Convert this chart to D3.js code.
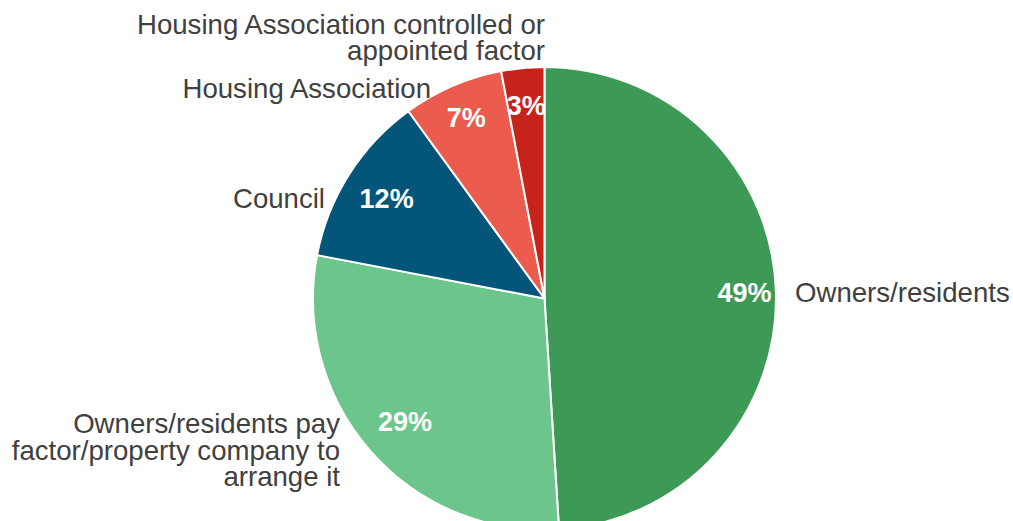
<!DOCTYPE html>
<html>
<head>
<meta charset="utf-8">
<script src="https://cdn.jsdelivr.net/npm/d3@7"></script>
<style>
  html, body { margin: 0; padding: 0; background: #fff; }
  svg { display: block; }
</style>
</head>
<body>
<svg id="chart" width="1013" height="521"></svg>
<script>
// Who arranges it: share of responses
const categories = [
  "Owners/residents",
  "Owners/residents pay factor/property company to arrange it",
  "Council",
  "Housing Association",
  "Housing Association controlled or appointed factor"
];
const values = [49, 29, 12, 7, 3];
const colors = ["#3d9956", "#6cc58a", "#03567a", "#eb5b4e", "#c8231a"];
// Category labels broken into lines as drawn
const labelLines = [
  ["Owners/residents"],
  ["Owners/residents pay", "factor/property company to", "arrange it"],
  ["Council"],
  ["Housing Association"],
  ["Housing Association controlled or", "appointed factor"]
];

const width = 1013, height = 521;
const cx = 544.5, cy = 298.5, R = 231.5;
const fontFamily = "'Liberation Sans', Arial, Helvetica, sans-serif";
const labelSize = 27.6;
const pctSize = 27;
const lineH = 26.5;

const svg = d3.select("#chart");
const g = svg.append("g").attr("transform", `translate(${cx},${cy})`);

const data = categories.map((c, i) => ({ name: c, value: values[i], color: colors[i], lines: labelLines[i] }));

const pie = d3.pie().value(d => d.value).sort(null);
const arcs = pie(data);
const arc = d3.arc().innerRadius(0).outerRadius(R);

g.selectAll("path.slice")
  .data(arcs)
  .join("path")
  .attr("class", "slice")
  .attr("d", arc)
  .attr("fill", d => d.data.color)
  .attr("stroke", "#fff")
  .attr("stroke-width", 2)
  .attr("stroke-linejoin", "round");

// Percentage labels inside each slice
const pctRadius = [200, 186, 187, 197, 194];
g.selectAll("text.pct")
  .data(arcs)
  .join("text")
  .attr("class", "pct")
  .attr("transform", (d, i) => {
    const a = (d.startAngle + d.endAngle) / 2;
    const r = pctRadius[i];
    return `translate(${r * Math.sin(a)},${-r * Math.cos(a)})`;
  })
  .attr("text-anchor", "middle")
  .attr("dy", "0.36em")
  .attr("fill", "#fff")
  .attr("font-family", fontFamily)
  .attr("font-weight", "bold")
  .attr("font-size", pctSize)
  .text(d => d3.format(".0f")(d.value) + "%");

// Category labels outside the pie
const labelPos = [
  { x: 795, y: 292, anchor: "start" },
  { x: 340, y: 450, anchor: "end" },
  { x: 325, y: 198, anchor: "end" },
  { x: 431, y: 88, anchor: "end" },
  { x: 545, y: 37, anchor: "end" }
];

arcs.forEach((d, i) => {
  const p = labelPos[i];
  const lines = d.data.lines;
  const t = svg.append("text")
    .attr("font-family", fontFamily)
    .attr("font-size", labelSize)
    .attr("fill", "#404040")
    .attr("text-anchor", p.anchor);
  const y0 = p.y - (lines.length - 1) * lineH / 2;
  lines.forEach((ln, k) => {
    t.append("tspan")
      .attr("x", p.x)
      .attr("y", y0 + k * lineH)
      .attr("dy", "0.36em")
      .text(ln);
  });
});
</script>
</body>
</html>
